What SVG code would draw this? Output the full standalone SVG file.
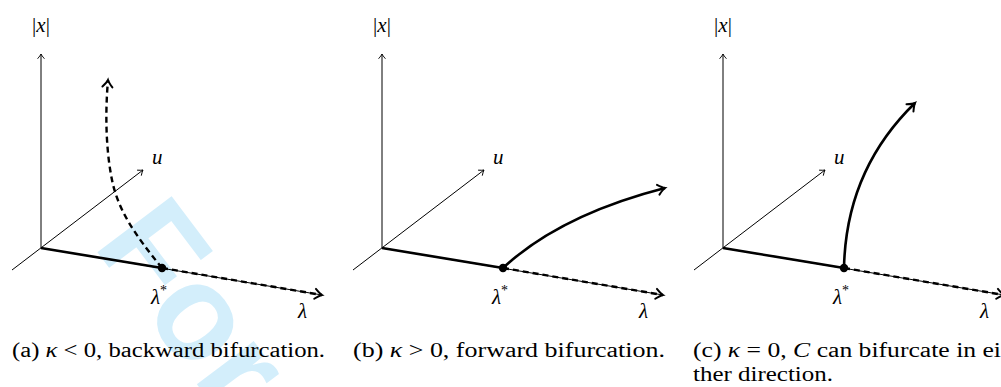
<svg xmlns="http://www.w3.org/2000/svg" width="1001" height="387" viewBox="0 0 1001 387">
<style>
.bg{fill:#ffffff}
.wm{font-family:"Liberation Sans",Arial,sans-serif;font-weight:bold;font-size:135px;fill:#d3eefb}
.ax{fill:none;stroke:#000;stroke-width:1}
.thick{fill:none;stroke:#000;stroke-width:2.6;stroke-linecap:butt}
.dash{fill:none;stroke:#000;stroke-width:2.4;stroke-dasharray:6 4}
.dot{fill:#000}
.m{font-family:"Liberation Serif","Times New Roman",serif;font-size:21px;fill:#000}
.mi{font-style:italic}
.sup{font-style:normal;font-size:14px}
.cap{font-family:"Liberation Serif","Times New Roman",serif;font-size:20px;fill:#000}
</style>
<defs>
<marker id="ah" viewBox="-6 -5 8 10" refX="0" refY="0" markerWidth="8" markerHeight="10" markerUnits="userSpaceOnUse" orient="auto" overflow="visible">
<path d="M-4.5,-3.2 Q-1.5,-0.6 0,0 Q-1.5,0.6 -4.5,3.2" fill="none" stroke="#000" stroke-width="0.9" stroke-linecap="round"/>
</marker>
<marker id="ahb" viewBox="-10 -8 12 16" refX="0" refY="0" markerWidth="12" markerHeight="16" markerUnits="userSpaceOnUse" orient="auto" overflow="visible">
<path d="M-7,-5 Q-2.5,-1 0,0 Q-2.5,1 -7,5" fill="none" stroke="#000" stroke-width="2" stroke-linecap="round"/>
</marker>
</defs>
<rect class="bg" x="0" y="0" width="1001" height="387"/>
<g id="watermark">
<text class="wm" x="92" y="245" transform="rotate(53 92 245)">For</text>
</g>
<g id="panel-a">
<line class="ax" x1="41" y1="248" x2="41" y2="54" marker-end="url(#ah)"/>
<line class="ax" x1="12" y1="270" x2="143" y2="170" marker-end="url(#ah)"/>
<line class="ax" x1="41" y1="248" x2="322" y2="295"/>
<text class="m" x="41" y="32" text-anchor="middle">|<tspan class="mi">x</tspan>|</text>
<text class="m mi" x="152" y="164">u</text>
<text class="m mi" x="151" y="304">λ<tspan class="sup" dy="-9">*</tspan></text>
<text class="m mi" x="298" y="318">λ</text>
</g>
<g id="panel-b">
<line class="ax" x1="382" y1="248" x2="382" y2="54" marker-end="url(#ah)"/>
<line class="ax" x1="353" y1="270" x2="484" y2="170" marker-end="url(#ah)"/>
<line class="ax" x1="382" y1="248" x2="663" y2="295"/>
<text class="m" x="382" y="32" text-anchor="middle">|<tspan class="mi">x</tspan>|</text>
<text class="m mi" x="493" y="164">u</text>
<text class="m mi" x="492" y="304">λ<tspan class="sup" dy="-9">*</tspan></text>
<text class="m mi" x="639" y="318">λ</text>
</g>
<g id="panel-c">
<line class="ax" x1="723" y1="248" x2="723" y2="54" marker-end="url(#ah)"/>
<line class="ax" x1="694" y1="270" x2="825" y2="170" marker-end="url(#ah)"/>
<line class="ax" x1="723" y1="248" x2="1004" y2="295"/>
<text class="m" x="723" y="32" text-anchor="middle">|<tspan class="mi">x</tspan>|</text>
<text class="m mi" x="834" y="164">u</text>
<text class="m mi" x="833" y="304">λ<tspan class="sup" dy="-9">*</tspan></text>
<text class="m mi" x="980" y="318">λ</text>
</g>
<g id="connectors">
<line class="thick" x1="41" y1="248" x2="162" y2="268" stroke-width="3.6"/>
<line class="dash" x1="162" y1="268" x2="322" y2="295" marker-end="url(#ahb)"/>
<path class="dash" d="M162,268 C135,235 118,210 112,180 C106,150 105,115 108,80" marker-end="url(#ahb)"/>
<line class="thick" x1="382" y1="248" x2="503" y2="268"/>
<line class="dash" x1="503" y1="268" x2="663" y2="295" marker-end="url(#ahb)"/>
<path class="thick" d="M503,268 Q560,215 665,188" marker-end="url(#ahb)"/>
<line class="thick" x1="723" y1="248" x2="844" y2="268"/>
<line class="dash" x1="844" y1="268" x2="1004" y2="295" marker-end="url(#ahb)"/>
<path class="thick" d="M844,268 Q846,170 915,103" marker-end="url(#ahb)"/>
</g>
<g id="dots">
<circle class="dot" cx="162" cy="268" r="4.2"/>
<circle class="dot" cx="503" cy="268" r="4.2"/>
<circle class="dot" cx="844" cy="268" r="4.2"/>
</g>
<g id="captions">
<text class="cap" x="12" y="357" textLength="313" lengthAdjust="spacingAndGlyphs">(a) <tspan font-style="italic">κ</tspan> &lt; 0, backward bifurcation.</text>
<text class="cap" x="353" y="357" textLength="312" lengthAdjust="spacingAndGlyphs">(b) <tspan font-style="italic">κ</tspan> &gt; 0, forward bifurcation.</text>
<text class="cap" x="693" y="357" textLength="308" lengthAdjust="spacingAndGlyphs">(c) <tspan font-style="italic">κ</tspan> = 0, <tspan font-style="italic">C</tspan> can bifurcate in ei</text>
<text class="cap" x="693" y="381" textLength="140" lengthAdjust="spacingAndGlyphs">ther direction.</text>
</g>
</svg>
